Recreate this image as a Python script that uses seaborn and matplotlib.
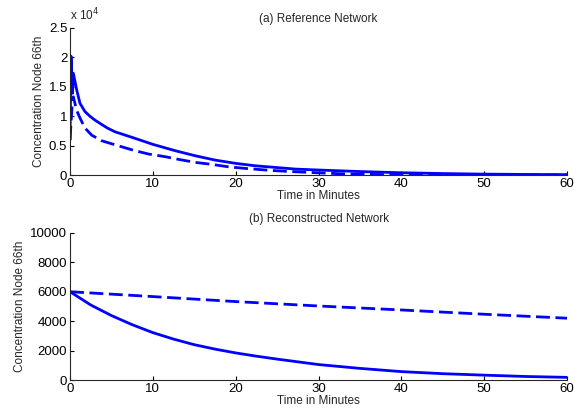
import numpy as np
import pandas as pd
import matplotlib
matplotlib.use("Agg")
import matplotlib.pyplot as plt
from matplotlib.ticker import FuncFormatter
import seaborn as sns

# (a) reference network
t_ref = [0, 0.12, 0.3, 0.4, 0.8, 1.2, 1.8, 2.4, 3.0, 3.6, 4.5, 5.4, 7.85, 10,
         12.7, 15.1, 17.5, 20, 22.3, 24.8, 27.2, 30.2, 35, 39.9, 45, 49.5, 55, 60]
ref_solid = [6000, 20200, 13900, 17300, 14500, 12200, 10800, 10000, 9350, 8800,
             8000, 7370, 6240, 5220, 4140, 3290, 2550, 1990, 1590, 1300, 1020, 850,
             600, 400, 260, 170, 110, 70]
t_ref_d = [0, 0.3, 0.4, 0.8, 1.2, 1.8, 2.6, 3.8, 5.8, 7.85, 9.5, 11.5, 13.1, 15.1,
           17.1, 19.1, 21.1, 24.2, 26.2, 30, 32.6, 37.4, 42, 48, 54, 60]
ref_dash = [6000, 13000, 13300, 11000, 9700, 8000, 6800, 5840, 4990, 4140, 3570,
            3120, 2670, 2160, 1820, 1410, 1140, 800, 630, 380, 230, 80, 50, 35,
            25, 20]

# (b) reconstructed network
t_rec = [0, 2.5, 5, 7.5, 10, 12.5, 15, 17.5, 20, 22.5, 25, 30, 35, 40, 45, 50, 55, 60]
rec_solid = [6000, 5100, 4380, 3760, 3220, 2780, 2400, 2100, 1840, 1620, 1420,
             1050, 790, 570, 430, 330, 240, 180]
t_rec_d = [0, 10, 20, 30, 40, 50, 60]
rec_dash = [6000, 5670, 5330, 5030, 4760, 4470, 4200]

sns.set_style("ticks")
plt.rcParams["font.family"] = ["Liberation Sans", "DejaVu Sans"]
plt.rcParams["xtick.direction"] = "in"
plt.rcParams["ytick.direction"] = "in"
plt.rcParams["xtick.major.size"] = 3
plt.rcParams["ytick.major.size"] = 3

fig = plt.figure(figsize=(5.74, 4.11), dpi=100)
ax1 = fig.add_axes([0.122, 0.574, 0.866, 0.358])
ax2 = fig.add_axes([0.122, 0.0754, 0.866, 0.358])

blue = "#0000ff"
lw = 2.0
dash = (0, (5, 2))

sns.lineplot(data=pd.DataFrame({"t": t_ref_d, "c": ref_dash}), x="t", y="c",
             ax=ax1, color=blue, lw=lw, linestyle=dash)
sns.lineplot(data=pd.DataFrame({"t": t_ref, "c": ref_solid}), x="t", y="c",
             ax=ax1, color=blue, lw=lw)

sns.lineplot(data=pd.DataFrame({"t": t_rec_d, "c": rec_dash}), x="t", y="c",
             ax=ax2, color=blue, lw=lw, linestyle=dash)
sns.lineplot(data=pd.DataFrame({"t": t_rec, "c": rec_solid}), x="t", y="c",
             ax=ax2, color=blue, lw=lw)

for ax in (ax1, ax2):
    ax.set_xlim(0, 60)
    ax.set_xticks([0, 10, 20, 30, 40, 50, 60])
    sns.despine(ax=ax)
    ax.spines["left"].set_linewidth(0.8)
    ax.spines["bottom"].set_linewidth(0.8)
    ax.tick_params(pad=2, colors="black", labelsize=9.5)
    ax.set_xlabel("Time in Minutes", fontsize=8.5, labelpad=0)
    ax.set_ylabel("Concentration Node 66th", fontsize=8.5, labelpad=3)

ax1.set_ylim(0, 25000)
ax1.set_yticks([0, 5000, 10000, 15000, 20000, 25000])
ax1.yaxis.set_major_formatter(FuncFormatter(lambda v, p: f"{v / 1e4:g}"))
ax1.text(0.0, 1.03, r"x 10$^4$", transform=ax1.transAxes, fontsize=8.5, va="bottom")
ax1.set_title("(a) Reference Network", fontsize=8.5, pad=4)

ax2.set_ylim(0, 10000)
ax2.set_yticks([0, 2000, 4000, 6000, 8000, 10000])
ax2.set_title("(b) Reconstructed Network", fontsize=8.5, pad=8)

fig.savefig("out.png", dpi=100)
